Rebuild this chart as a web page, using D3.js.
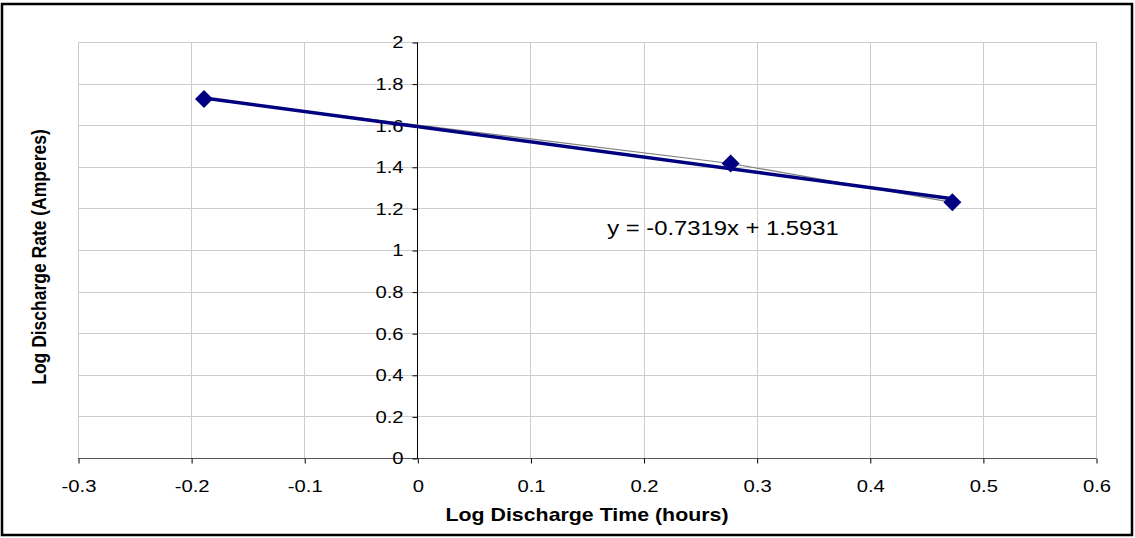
<!DOCTYPE html>
<html>
<head>
<meta charset="utf-8">
<script src="https://cdn.jsdelivr.net/npm/d3@7"></script>
<style>
  html, body { margin: 0; padding: 0; background: #fff; }
  svg { display: block; }
  text { font-family: "Liberation Sans", Arial, sans-serif; fill: #000; }
</style>
</head>
<body>
<svg id="chart" width="1135" height="538"></svg>
<script>
// ---- data ----
const logTime = [-0.1886, 0.277, 0.473];
const logRate = [1.726, 1.416, 1.229];
const trendSlope = -0.7319;
const trendIntercept = 1.5931;
const xTicks = [-0.3, -0.2, -0.1, 0, 0.1, 0.2, 0.3, 0.4, 0.5, 0.6];
const yTicks = [0, 0.2, 0.4, 0.6, 0.8, 1, 1.2, 1.4, 1.6, 1.8, 2];
const xTitle = "Log Discharge Time (hours)";
const yTitle = "Log Discharge Rate (Amperes)";
const equationText = "y = -0.7319x + 1.5931";

// ---- layout ----
const W = 1135, H = 538;
const plot = { left: 78, right: 1096, top: 42, bottom: 458 };
const svg = d3.select("#chart");
const SX = 1.19; // horizontal stretch of text
const fmt = d => String(Math.round(d * 10) / 10);

svg.append("rect").attr("x", 0).attr("y", 0).attr("width", W).attr("height", H).attr("fill", "#fff");
svg.append("rect").attr("x", 2).attr("y", 4).attr("width", 1130).attr("height", 531)
  .attr("fill", "none").attr("stroke", "#000").attr("stroke-width", 2.5);

const x = d3.scaleLinear().domain([-0.3, 0.6]).range([plot.left, plot.right]);
const y = d3.scaleLinear().domain([0, 2]).range([plot.bottom, plot.top]);

// gridlines
const grid = svg.append("g");
grid.selectAll("line.v").data(xTicks).join("line")
  .attr("x1", d => Math.round(x(d)) + 0.5).attr("x2", d => Math.round(x(d)) + 0.5)
  .attr("y1", plot.top).attr("y2", plot.bottom)
  .attr("stroke", "#cccccc").attr("stroke-width", 1);
grid.selectAll("line.h").data(yTicks).join("line")
  .attr("y1", d => Math.round(y(d)) + 0.5).attr("y2", d => Math.round(y(d)) + 0.5)
  .attr("x1", plot.left).attr("x2", plot.right)
  .attr("stroke", "#cccccc").attr("stroke-width", 1);

// x axis at y=0
const xAxis = d3.axisBottom(x).tickValues(xTicks).tickSize(5).tickPadding(16).tickFormat(fmt);
const gx = svg.append("g").attr("transform", `translate(0.5,${Math.round(y(0)) + 0.5})`).call(xAxis);
gx.select(".domain").attr("stroke", "#555").attr("d", `M${plot.left},0H${plot.right}`);
gx.selectAll(".tick line").attr("stroke", "#000");
gx.selectAll(".tick text").attr("font-size", 17).attr("font-family", "Liberation Sans, Arial, sans-serif")
  .attr("fill", "#000").attr("dy", "0.71em");

// y axis at x=0
const yAxis = d3.axisLeft(y).tickValues(yTicks).tickSize(5).tickPadding(9).tickFormat(fmt);
const gy = svg.append("g").attr("transform", `translate(${Math.round(x(0)) + 0.5},0.5)`).call(yAxis);
gy.select(".domain").attr("stroke", "#000").attr("d", `M0,${plot.top}V${plot.bottom}`);
gy.selectAll(".tick line").attr("stroke", "#000");
gy.selectAll(".tick text").attr("font-size", 17).attr("font-family", "Liberation Sans, Arial, sans-serif")
  .attr("fill", "#000");

// stretch tick text horizontally
gx.selectAll(".tick text").attr("transform", `scale(${SX},1)`);
gy.selectAll(".tick text").each(function() {
  const t = d3.select(this);
  const tx = +t.attr("x");
  t.attr("x", tx / SX).attr("transform", `scale(${SX},1)`);
});

// data series line (gray)
const pts = logTime.map((t, i) => [t, logRate[i]]);
svg.append("path").datum(pts)
  .attr("d", d3.line().x(d => x(d[0])).y(d => y(d[1])))
  .attr("fill", "none").attr("stroke", "#808080").attr("stroke-width", 1.2);

// trendline
const tx0 = d3.min(logTime), tx1 = d3.max(logTime);
const trend = [[tx0, trendSlope * tx0 + trendIntercept], [tx1, trendSlope * tx1 + trendIntercept]];
svg.append("path").datum(trend)
  .attr("d", d3.line().x(d => x(d[0])).y(d => y(d[1])))
  .attr("fill", "none").attr("stroke", "#000080").attr("stroke-width", 3.5);

// markers
const m = 9;
svg.selectAll("path.marker").data(pts).join("path")
  .attr("class", "marker")
  .attr("transform", d => `translate(${x(d[0])},${y(d[1])})`)
  .attr("d", `M0,${-m}L${m},0L0,${m}L${-m},0Z`)
  .attr("fill", "#000080");

// equation
svg.append("text").attr("transform", `translate(723,235) scale(${SX},1)`)
  .attr("text-anchor", "middle").attr("font-size", 20).text(equationText);

// axis titles
svg.append("text").attr("transform", `translate(587,521) scale(1.22,1)`)
  .attr("text-anchor", "middle").attr("font-size", 17.5).attr("font-weight", "bold").text(xTitle);
svg.append("text").attr("transform", `translate(46,257) scale(1.2,1) rotate(-90)`)
  .attr("text-anchor", "middle").attr("font-size", 17.5).attr("font-weight", "bold").text(yTitle);
</script>
</body>
</html>
